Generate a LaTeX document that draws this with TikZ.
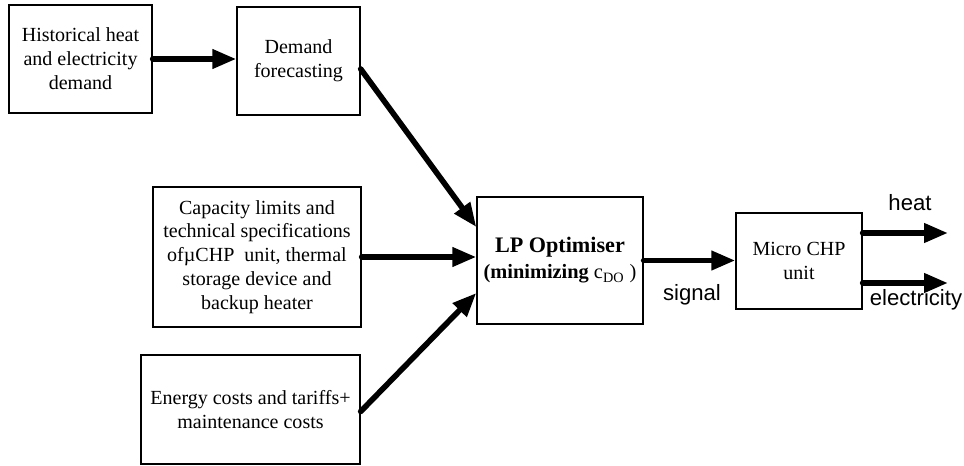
\documentclass[tikz,border=0pt]{standalone}
\usepackage{fontspec}
\setmainfont{Liberation Serif}
\setsansfont{Liberation Sans}
\usetikzlibrary{arrows.meta}

\begin{document}
\begin{tikzpicture}[x=0.02cm,y=-0.02cm,
  block/.style={draw,line width=0.8pt,align=center,inner sep=1pt,
    font=\fontsize{11.4}{13.6}\selectfont},
  flow/.style={line width=3.2pt,line cap=round,
    -{Triangle[length=0.48cm,width=0.37cm]}},
  lbl/.style={font=\sffamily\fontsize{12.6}{14}\selectfont}]
\useasboundingbox (0,0) rectangle (964,466);
% input blocks
\node[block,minimum width=2.86cm,minimum height=2.16cm] (hist) at (80.5,59)
  {Historical heat\\and electricity\\demand};
\node[block,minimum width=2.46cm,minimum height=2.16cm] (fore) at (298.5,61)
  {Demand\\forecasting};
\node[block,minimum width=4.16cm,minimum height=2.8cm] (cap) at (257,257)
  {Capacity limits and\\technical specifications\\ofµCHP~ unit, thermal\\storage device and\\backup heater};
\node[block,minimum width=4.38cm,minimum height=2.18cm] (cost) at (250.5,409.5)
  {Energy costs and tariffs+\\maintenance costs};
% optimiser and plant
\node[block,minimum width=3.32cm,minimum height=2.54cm,
  font=\fontsize{12.6}{14.8}\selectfont] (lp) at (560,260.5)
  {\textbf{LP Optimiser}\\
   {\fontsize{11.6}{14}\selectfont\textbf{(minimizing} c\textsubscript{DO} )}};
\node[block,minimum width=2.52cm,minimum height=1.92cm] (chp) at (799,261)
  {Micro CHP\\unit};
\coordinate (heatend) at (948,233);
\coordinate (elecend) at (948,283);
% connectors
\draw[flow] (hist.east) -- (hist.east -| fore.west);
\draw[flow] ([yshift=-0.16cm]fore.east) -- ([yshift=0.67cm]lp.west);
\draw[flow] (cap.east) -- (cap.east -| lp.west);
\draw[flow] ([yshift=-0.04cm]cost.east) -- ([yshift=-0.65cm]lp.west);
\draw[flow] (lp.east) -- (lp.east -| chp.west);
\draw[flow] (chp.east |- heatend) -- (heatend);
\draw[flow] (chp.east |- elecend) -- (elecend);
% labels
\node[lbl] (sig) at (692,295) {signal};
\node[lbl] (heat) at (910,203) {heat};
\node[lbl] (elec) at (916,300) {electricity};
\end{tikzpicture}
\end{document}
